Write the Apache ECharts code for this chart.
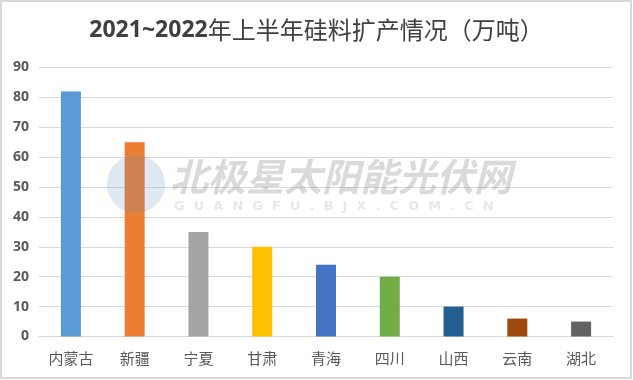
<!DOCTYPE html>
<html><head><meta charset="utf-8">
<script src="https://cdn.jsdelivr.net/npm/echarts@6/dist/echarts.min.js"></script>
<style>html,body{margin:0;padding:0;background:#fff}#c{width:633px;height:380px}</style>
</head><body><div id="c"></div>
<script>
const categories = ['内蒙古', '新疆', '宁夏', '甘肃', '青海', '四川', '山西', '云南', '湖北'];
const values = [82, 65, 35, 30, 24, 20, 10, 6, 5];
const barColors = ['#5B9BD5', '#ED7D31', '#A5A5A5', '#FFC000', '#4472C4', '#70AD47', '#255E91', '#9E480E', '#636363'];
const titleYears = '2021~2022';
const titleRest = '年上半年硅料扩产情况（万吨）';
const watermarkMain = '北极星太阳能光伏网';
const watermarkSub = 'G  U  A  N  G  F  U  .  B  J  X  .  C  O  M  .  C  N';

const chart = echarts.init(document.getElementById('c'), null, {renderer: 'canvas'});
chart.setOption({
  backgroundColor: '#fff',
  animation: false,
  title: {
    text: '{a|' + titleYears + '}{b|' + titleRest + '}',
    left: 'center',
    top: 13,
    textStyle: {
      rich: {
        a: {fontFamily: 'Open Sans, Liberation Sans, sans-serif', fontWeight: 'bold', fontSize: 23, color: '#404040'},
        b: {fontFamily: 'Noto Sans CJK SC', fontWeight: 'normal', fontSize: 24, color: '#404040'}
      }
    }
  },
  grid: {left: 39, right: 20, top: 67.5, bottom: 43.5, containLabel: false},
  xAxis: {
    type: 'category',
    data: categories,
    axisTick: {show: false},
    axisLine: {lineStyle: {color: '#d9d9d9', width: 1}},
    axisLabel: {color: '#595959', fontSize: 15, fontFamily: 'Noto Sans CJK SC', margin: 14}
  },
  yAxis: {
    type: 'value',
    min: 0, max: 90, interval: 10,
    axisLine: {show: false},
    axisTick: {show: false},
    splitLine: {lineStyle: {color: '#d9d9d9', width: 1}},
    axisLabel: {color: '#595959', fontSize: 14, fontWeight: 'bold', fontFamily: 'Open Sans, Liberation Sans, sans-serif', margin: 10}
  },
  series: [{
    type: 'bar',
    barWidth: 20,
    data: values.map((v, i) => ({value: v, itemStyle: {color: barColors[i]}}))
  }],
  graphic: [
    {type: 'rect', shape: {x: 1, y: 1, width: 630, height: 377}, style: {fill: 'none', stroke: '#d9d9d9', lineWidth: 2}, z: 100},
    {type: 'circle', shape: {cx: 136, cy: 184, r: 29}, style: {fill: 'rgba(110,150,200,0.22)'}, z: 100},
    {type: 'text', x: 170, y: 158, style: {text: watermarkMain, font: 'italic bold 38px "Noto Sans CJK SC"', fill: 'rgba(150,150,150,0.35)'}, z: 100},
    {type: 'text', x: 174, y: 200, style: {text: watermarkSub, font: 'bold 13px "DejaVu Sans"', fill: 'rgba(150,150,150,0.22)'}, z: 100}
  ]
});
</script>
</body></html>
